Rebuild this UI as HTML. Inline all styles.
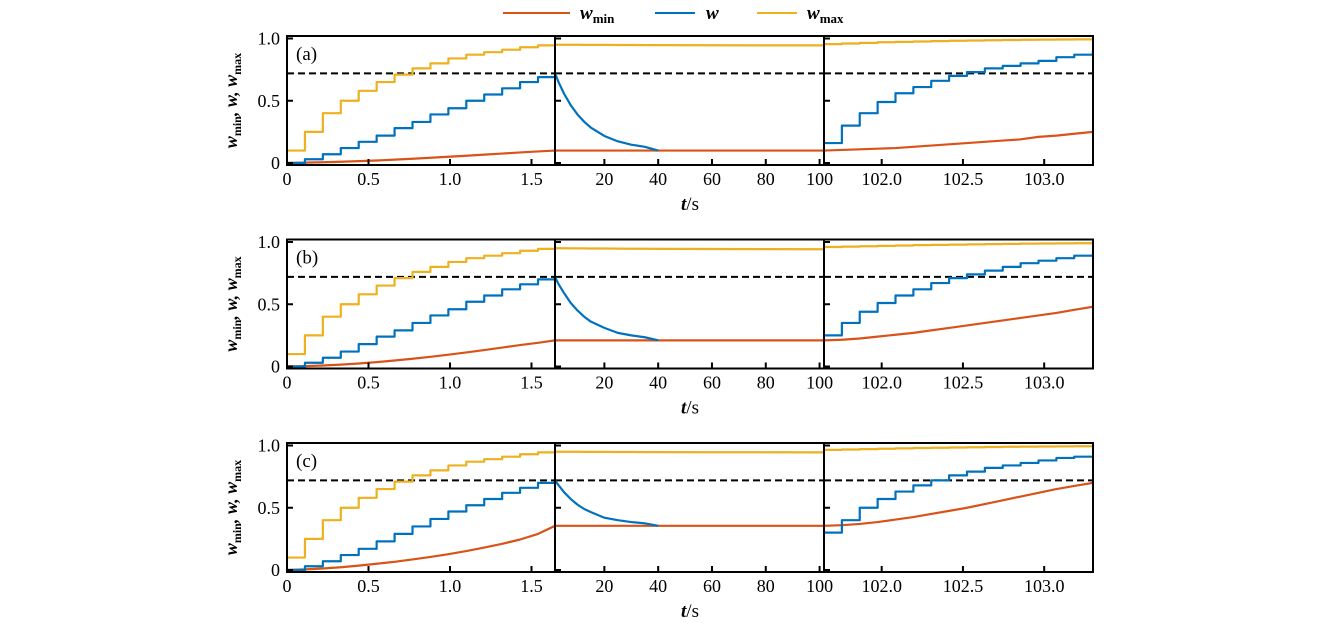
<!DOCTYPE html>
<html><head><meta charset="utf-8"><style>
html,body{margin:0;padding:0;background:#fff;}
svg{display:block;}
text{font-family:"Liberation Serif",serif;fill:#000;}
</style></head><body>
<svg id="chart" width="1339" height="630" viewBox="0 0 1339 630" xmlns="http://www.w3.org/2000/svg">
<g>
 <line x1="503" y1="13" x2="570" y2="13" stroke="#D95319" stroke-width="2"/>
 <text x="580" y="19" font-size="19" font-style="italic" font-weight="bold">w<tspan font-size="13" font-style="normal" dy="4">min</tspan></text>
 <line x1="655" y1="13" x2="695" y2="13" stroke="#0072BD" stroke-width="2"/>
 <text x="706" y="19" font-size="19" font-style="italic" font-weight="bold">w</text>
 <line x1="757" y1="13" x2="797" y2="13" stroke="#EDB120" stroke-width="2"/>
 <text x="807" y="19" font-size="19" font-style="italic" font-weight="bold">w<tspan font-size="13" font-style="normal" dy="4">max</tspan></text>
</g>
<g id="plots"></g>
</svg>
<script>
// shared time grids
const tLeft = [0,0.11,0.22,0.33,0.44,0.55,0.66,0.77,0.88,0.99,1.10,1.21,1.32,1.43,1.54,1.645];
const tMid = [1.645,3,5,7.5,10,12.5,15,20,25,30,35,40,60,80,101.645];
const tRight = [101.645,101.755,101.865,101.975,102.085,102.195,102.305,102.415,102.525,102.635,102.745,102.855,102.965,103.075,103.185,103.3];
const threshold = 0.72;
const panelLabels = ["(a)","(b)","(c)"];
const yTicks = [0,0.5,1.0];
const yTickLabels = ["0","0.5","1.0"];
const xTicksL = [0,0.5,1.0,1.5];
const xTickLabelsL = ["0","0.5","1.0","1.5"];
const xTicksM = [20,40,60,80,100];
const xTickLabelsM = ["20","40","60","80","100"];
const xTicksR = [102.0,102.5,103.0];
const xTickLabelsR = ["102.0","102.5","103.0"];

// row a
const aLeftWmin = [0,0.003,0.006,0.01,0.015,0.02,0.027,0.034,0.042,0.05,0.058,0.067,0.076,0.085,0.093,0.1];
const aLeftW    = [0,0.03,0.07,0.12,0.17,0.22,0.28,0.33,0.39,0.44,0.5,0.55,0.6,0.65,0.69,0.72];
const aLeftWmax = [0.1,0.25,0.4,0.5,0.58,0.65,0.71,0.76,0.8,0.84,0.87,0.89,0.91,0.93,0.945,0.95];
const aMidWmin  = [0.1,0.1,0.1,0.1,0.1,0.1,0.1,0.1,0.1,0.1,0.1,0.1,0.1,0.1,0.1];
const aMidW     = [0.72,0.648,0.557,0.464,0.39,0.331,0.284,0.217,0.174,0.147,0.13,0.1];
const aMidWmax  = [0.95,0.95,0.95,0.95,0.95,0.949,0.949,0.949,0.948,0.948,0.947,0.947,0.946,0.945,0.945];
const aRightWmin= [0.1,0.105,0.11,0.115,0.12,0.13,0.14,0.15,0.16,0.17,0.18,0.19,0.21,0.22,0.235,0.25];
const aRightW   = [0.16,0.3,0.4,0.49,0.56,0.61,0.66,0.7,0.73,0.76,0.78,0.8,0.82,0.85,0.87,0.9];
const aRightWmax= [0.955,0.96,0.965,0.97,0.973,0.976,0.979,0.982,0.984,0.986,0.988,0.99,0.991,0.992,0.993,0.995];
// row b
const bLeftWmin = [0,0.003,0.008,0.015,0.024,0.035,0.048,0.062,0.078,0.095,0.113,0.132,0.152,0.172,0.19,0.21];
const bLeftW    = [0,0.03,0.07,0.12,0.18,0.24,0.29,0.35,0.41,0.46,0.52,0.57,0.62,0.66,0.7,0.72];
const bLeftWmax = [0.1,0.25,0.4,0.5,0.58,0.65,0.71,0.76,0.8,0.84,0.87,0.89,0.91,0.93,0.945,0.95];
const bMidWmin  = [0.21,0.21,0.21,0.21,0.21,0.21,0.21,0.21,0.21,0.21,0.21,0.21,0.21,0.21,0.21];
const bMidW     = [0.72,0.66,0.59,0.51,0.45,0.40,0.36,0.31,0.27,0.25,0.235,0.21];
const bMidWmax  = [0.95,0.95,0.95,0.949,0.949,0.949,0.948,0.948,0.947,0.946,0.946,0.945,0.944,0.943,0.942];
const bRightWmin= [0.21,0.215,0.225,0.24,0.255,0.27,0.29,0.31,0.33,0.35,0.37,0.39,0.41,0.43,0.455,0.48];
const bRightW   = [0.25,0.35,0.44,0.51,0.57,0.62,0.67,0.71,0.74,0.77,0.8,0.83,0.85,0.87,0.89,0.91];
const bRightWmax= [0.96,0.963,0.966,0.969,0.972,0.975,0.977,0.979,0.981,0.983,0.985,0.987,0.988,0.989,0.99,0.99];
// row c
const cLeftWmin = [0,0.005,0.012,0.022,0.035,0.05,0.066,0.085,0.105,0.127,0.152,0.18,0.21,0.245,0.29,0.355];
const cLeftW    = [0,0.03,0.07,0.12,0.17,0.23,0.29,0.35,0.41,0.47,0.52,0.57,0.62,0.66,0.7,0.72];
const cLeftWmax = [0.1,0.25,0.4,0.5,0.58,0.65,0.71,0.76,0.8,0.84,0.87,0.89,0.91,0.93,0.945,0.95];
const cMidWmin  = [0.355,0.355,0.355,0.355,0.355,0.355,0.355,0.355,0.355,0.355,0.355,0.355,0.355,0.355,0.355];
const cMidW     = [0.72,0.68,0.625,0.57,0.525,0.49,0.465,0.42,0.40,0.385,0.375,0.355];
const cMidWmax  = [0.95,0.95,0.95,0.95,0.95,0.949,0.949,0.949,0.948,0.948,0.947,0.947,0.946,0.946,0.945];
const cRightWmin= [0.355,0.36,0.37,0.385,0.405,0.425,0.45,0.475,0.5,0.53,0.56,0.59,0.62,0.65,0.675,0.7];
const cRightW   = [0.3,0.4,0.5,0.57,0.63,0.68,0.72,0.76,0.79,0.82,0.84,0.86,0.88,0.9,0.91,0.92];
const cRightWmax= [0.965,0.968,0.971,0.974,0.977,0.98,0.982,0.984,0.986,0.988,0.99,0.991,0.992,0.993,0.994,0.995];

const rows = [
 {L:[aLeftWmin,aLeftW,aLeftWmax],M:[aMidWmin,aMidW,aMidWmax],R:[aRightWmin,aRightW,aRightWmax]},
 {L:[bLeftWmin,bLeftW,bLeftWmax],M:[bMidWmin,bMidW,bMidWmax],R:[bRightWmin,bRightW,bRightWmax]},
 {L:[cLeftWmin,cLeftW,cLeftWmax],M:[cMidWmin,cMidW,cMidWmax],R:[cRightWmin,cRightW,cRightWmax]}
];
const colors = ["#D95319","#0072BD","#EDB120"];
const seriesNames = ["wmin","w","wmax"];
const NS = "http://www.w3.org/2000/svg";
const root = document.getElementById("plots");

const rowTop = [36,239.5,443];
const rowZero = [163,366.5,570];
const yScale = (r,v) => rowZero[r] - v*124.5;
const xL = t => 287 + t*163;
const xM = t => 555 + (t-1.645)*2.69;
const xR = t => 824 + (t-101.645)*162.5;
const panels = [
 {key:"L",x0:287,x1:555,xs:xL,t:tLeft,ticks:xTicksL,labels:xTickLabelsL,name:"left"},
 {key:"M",x0:555,x1:824,xs:xM,t:tMid,ticks:xTicksM,labels:xTickLabelsM,name:"middle"},
 {key:"R",x0:824,x1:1093,xs:xR,t:tRight,ticks:xTicksR,labels:xTickLabelsR,name:"right"}
];

function mk(tag, attrs, parent){
 const e = document.createElementNS(NS, tag);
 for (const k in attrs) e.setAttribute(k, attrs[k]);
 parent.appendChild(e);
 return e;
}

rows.forEach((row, r) => {
 const g = mk("g", {}, root);
 
 
 const top = rowTop[r], bot = rowZero[r] + 2;
 panels.forEach((p, pi) => {
  const pg = mk("g", {}, g);
  
  
  const cid = "clip" + r + pi;
  const cp = mk("clipPath", {id: cid}, pg);
  mk("rect", {x:p.x0, y:top, width:p.x1-p.x0, height:bot-top}, cp);
  const dg = mk("g", {"clip-path":"url(#"+cid+")"}, pg);
  const th = mk("line", {x1:p.x0, x2:p.x1, y1:yScale(r,threshold), y2:yScale(r,threshold), stroke:"#000", "stroke-width":2, "stroke-dasharray":"7,4"}, dg);
  
  
  const data = row[p.key];
  [0,1,2].forEach(si => {
   const vals = data[si];
   let d = "";
   const stepped = (si > 0 && p.key !== "M");
   for (let k = 0; k < vals.length; k++) {
    const x = p.xs(p.t[k]), y = yScale(r, vals[k]);
    if (k === 0) d += "M" + x + "," + y;
    else if (stepped) d += "H" + x + "V" + y;
    else d += "L" + x + "," + y;
   }
   const path = mk("path", {d:d, fill:"none", stroke:colors[si], "stroke-width":2.2, "stroke-linejoin":"round"}, dg);
   
   
  });
  const fr = mk("rect", {x:p.x0, y:top, width:p.x1-p.x0, height:bot-top, fill:"none", stroke:"#000", "stroke-width":2}, pg);
  
  
  yTicks.forEach((v, i) => {
   const y = yScale(r, v);
   mk("line", {x1:p.x0, x2:p.x0+6, y1:y, y2:y, stroke:"#000", "stroke-width":2}, pg);
   if (pi === 0) {
    const t = mk("text", {x:p.x0-7, y:y+6, "text-anchor":"end", "font-size":18}, pg);
    t.textContent = yTickLabels[i];
    
    
   }
  });
  p.ticks.forEach((v, i) => {
   const x = p.xs(v);
   mk("line", {x1:x, x2:x, y1:bot, y2:bot-6, stroke:"#000", "stroke-width":2}, pg);
   const t = mk("text", {x:x, y:bot+20, "text-anchor":"middle", "font-size":18}, pg);
   t.textContent = p.labels[i];
   
   
  });
 });
 const pl = mk("text", {x:296, y:top+24, "font-size":19}, g);
 pl.textContent = panelLabels[r];
 
 
 const xl = mk("text", {x:690, y:bot+45, "text-anchor":"middle", "font-size":19}, g);
 xl.innerHTML = '<tspan font-style="italic" font-weight="bold">t</tspan>/s';
 
 
 const cy = (top + bot) / 2;
 const yl = mk("text", {x:0, y:0, "text-anchor":"middle", "font-size":18, "font-style":"italic", "font-weight":"bold", transform:"translate(237," + cy + ") rotate(-90)"}, g);
 yl.innerHTML = 'w<tspan font-size="12" font-style="normal" dy="4">min</tspan><tspan dy="-4">, w, w</tspan><tspan font-size="12" font-style="normal" dy="4">max</tspan>';
 
 
});
</script>
</body></html>
